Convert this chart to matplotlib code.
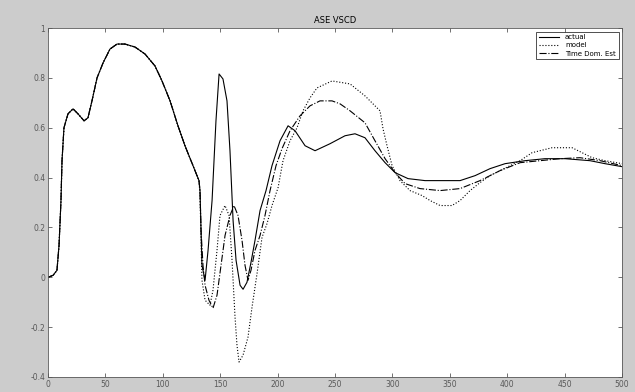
"""Three-trace comparison in the old grey-frame style."""
import matplotlib
matplotlib.use("Agg")
import matplotlib.pyplot as plt  # noqa: E402
import numpy as np  # noqa: E402

TITLE = "ASE VSCD"
LABELS = ["actual", "model", "Time Dom. Est"]
X_TICKS = [0, 50, 100, 150, 200, 250, 300, 350, 400, 450, 500]
Y_TICKS = [-0.4, -0.2, 0, 0.2, 0.4, 0.6, 0.8, 1.0]

# common rise and hump shared by every trace
x_common = [0, 4.4, 7.8, 9.6, 11.3, 12.2, 13.9, 17.4, 21.8, 26.1, 31.4, 34.8,
            38.3, 42.7, 47.9, 54.0, 60.1, 67.1, 75.8, 84.5, 93.2, 99.3, 106.3,
            113.2, 119.3, 126.3, 131.5]
y_common = [0, 0.008, 0.028, 0.128, 0.308, 0.468, 0.6, 0.656, 0.676, 0.656,
            0.628, 0.64, 0.708, 0.8, 0.86, 0.916, 0.936, 0.936, 0.924, 0.896,
            0.848, 0.788, 0.708, 0.608, 0.528, 0.448, 0.388]

x_actual = [132.4, 134.1, 136.8, 139.4, 142.9, 146.3, 149.0, 152.4, 155.9,
            158.5, 161.2, 163.8, 167.3, 169.9, 173.3, 176.8, 180.3, 184.7,
            189.9, 195.1, 202.1, 209.1, 215.2, 223.9, 232.6, 245.6, 258.7,
            267.4, 276.1, 284.8, 293.6, 302.3, 313.6, 328.4, 358.9, 372.0,
            385.0, 398.1, 415.5, 432.9, 450.4, 472.1, 485.2, 500.0]
y_actual = [0.348, 0.048, -0.012, 0.108, 0.308, 0.628, 0.816, 0.796, 0.708,
            0.508, 0.228, 0.068, -0.032, -0.048, -0.02, 0.06, 0.148, 0.268,
            0.348, 0.448, 0.548, 0.608, 0.588, 0.528, 0.508, 0.536, 0.568,
            0.576, 0.56, 0.508, 0.46, 0.42, 0.396, 0.388, 0.388, 0.408, 0.436,
            0.456, 0.468, 0.476, 0.476, 0.468, 0.456, 0.444]

x_model = [132.4, 134.1, 136.8, 141.1, 143.7, 147.2, 149.8, 154.2, 157.7,
           160.3, 162.9, 164.6, 166.4, 169.9, 174.2, 177.7, 182.1, 186.4,
           190.8, 195.1, 200.4, 204.7, 210.8, 216.9, 222.1, 228.2, 234.3,
           247.4, 263.1, 276.1, 289.2, 291.8, 295.3, 299.7, 306.6, 315.3,
           325.8, 332.8, 341.5, 351.9, 358.9, 367.6, 376.3, 385.0, 393.7,
           402.5, 411.2, 421.6, 439.0, 456.5, 473.9, 485.2, 500.0]
y_model = [0.328, -0.012, -0.092, -0.112, -0.052, 0.108, 0.248, 0.288, 0.248,
           0.068, -0.16, -0.272, -0.34, -0.312, -0.24, -0.12, 0.016, 0.16,
           0.216, 0.288, 0.36, 0.468, 0.548, 0.6, 0.668, 0.72, 0.76, 0.788,
           0.776, 0.728, 0.668, 0.596, 0.528, 0.448, 0.388, 0.348, 0.328,
           0.308, 0.288, 0.288, 0.308, 0.348, 0.38, 0.408, 0.428, 0.448, 0.468,
           0.5, 0.52, 0.52, 0.48, 0.468, 0.456]

x_est = [132.4, 133.3, 135.0, 136.8, 140.2, 143.7, 147.2, 150.7, 154.2, 158.5,
         162.0, 165.5, 169.0, 171.6, 174.2, 176.8, 180.3, 184.7, 189.0, 193.4,
         198.6, 203.8, 210.8, 219.5, 228.2, 236.9, 247.4, 254.4, 263.1, 276.1,
         284.8, 293.6, 302.3, 311.0, 324.0, 341.5, 358.9, 376.3, 393.7, 411.2,
         428.6, 446.0, 463.4, 480.9, 500.0]
y_est = [0.348, 0.188, 0.048, -0.032, -0.092, -0.124, -0.072, 0.048, 0.168,
         0.248, 0.288, 0.248, 0.148, 0.048, -0.012, 0.028, 0.108, 0.168,
         0.248, 0.348, 0.448, 0.516, 0.588, 0.648, 0.688, 0.708, 0.708, 0.696,
         0.668, 0.62, 0.548, 0.476, 0.42, 0.376, 0.356, 0.348, 0.356, 0.388,
         0.428, 0.46, 0.468, 0.476, 0.48, 0.468, 0.448]

STYLES = ["-", ":", "-."]

fig = plt.figure(figsize=(6.35, 3.92), dpi=100, facecolor="0.8")
ax = fig.add_axes([0.0756, 0.0383, 0.904, 0.890])
ax.set_facecolor("white")

series = [(x_actual, y_actual), (x_model, y_model), (x_est, y_est)]
for (xs, ys), ls, lab in zip(series, STYLES, LABELS):
    xx = np.concatenate([x_common, xs])
    yy = np.concatenate([y_common, ys])
    ax.plot(xx, yy, color="black", ls=ls, lw=0.8, label=lab)

ax.set_xlim(X_TICKS[0], X_TICKS[-1])
ax.set_ylim(Y_TICKS[0], Y_TICKS[-1])
ax.set_xticks(X_TICKS)
ax.set_yticks(Y_TICKS)
ax.set_yticklabels(["-0.4", "-0.2", "0", "0.2", "0.4", "0.6", "0.8", "1"])
ax.tick_params(direction="in", length=3, width=0.6, labelsize=5.5,
               top=True, right=True, pad=2, colors="0.35")
for sp in ax.spines.values():
    sp.set_color("0.35")
    sp.set_linewidth(0.6)
ax.set_title(TITLE, fontsize=6, pad=4)

leg = ax.legend(loc="upper right", fontsize=5, frameon=True, fancybox=False,
                edgecolor="black", handlelength=3, borderpad=0.4,
                labelspacing=0.3)
leg.get_frame().set_linewidth(0.6)

fig.savefig("out.png", dpi=100, facecolor=fig.get_facecolor())
